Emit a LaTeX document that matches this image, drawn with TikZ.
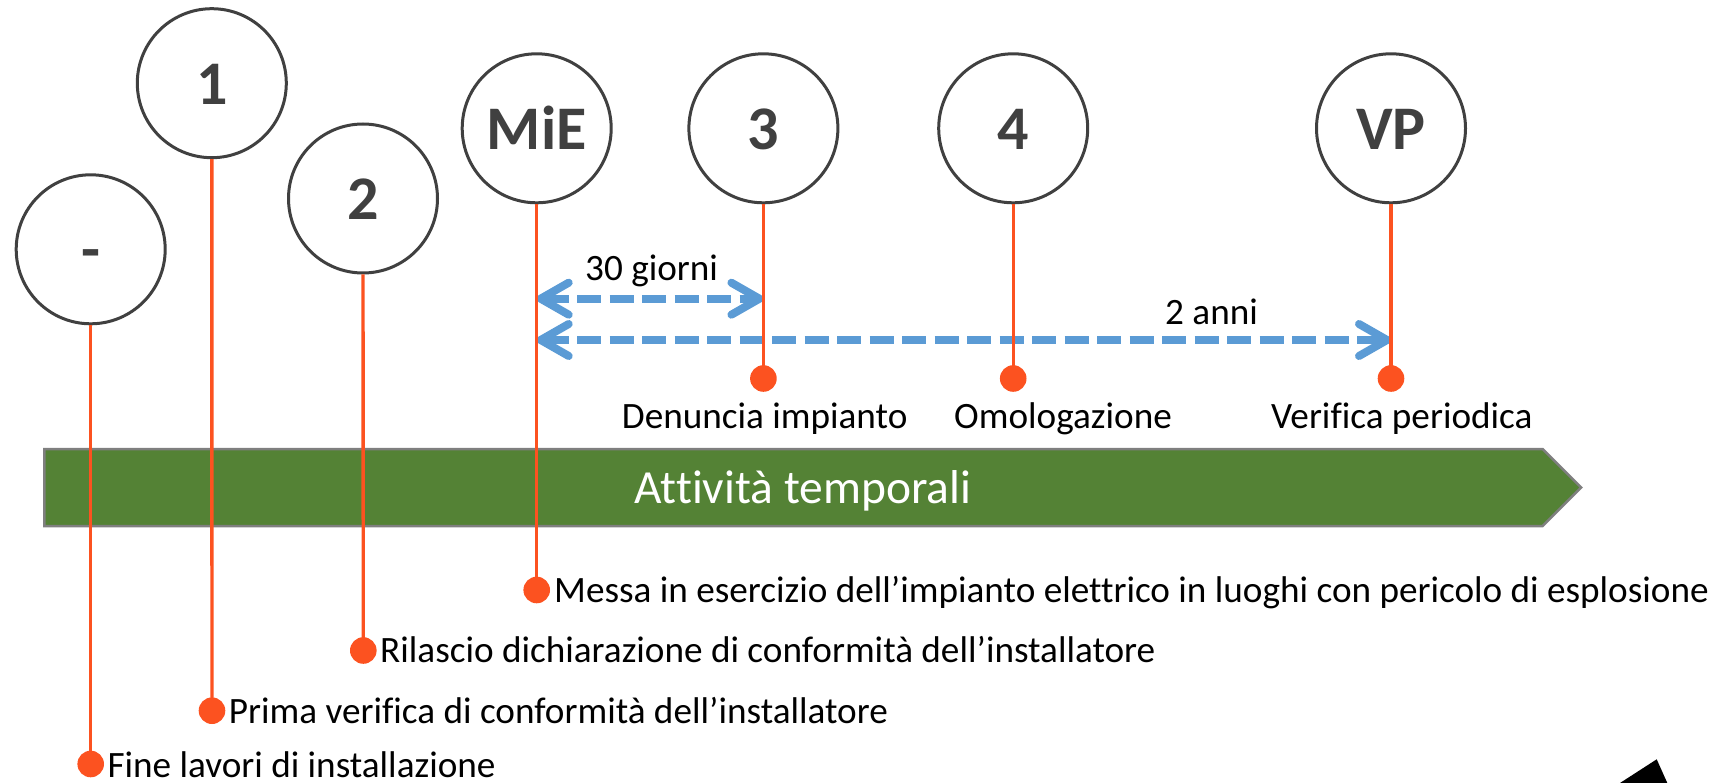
\documentclass[tikz,border=0pt]{standalone}
\usepackage{fontspec}
\setmainfont{Carlito}[Ligatures=CommonOff]
\usetikzlibrary{arrows.meta}
\definecolor{orng}{HTML}{FC5220}
\definecolor{grn}{HTML}{548235}
\definecolor{blu}{HTML}{5B9BD5}
\definecolor{dk}{HTML}{404040}
\definecolor{bordergray}{HTML}{7F7F7F}
\begin{document}
\begin{tikzpicture}[x=1pt,y=-1pt,
  milestone/.style={circle, draw=dk, line width=3pt, minimum size=149pt, inner sep=0pt,
    text=dk, font=\fontsize{62}{70}\selectfont\bfseries, text height=43pt, text depth=0pt},
  dot/.style={circle, fill=orng, minimum size=26.6pt, inner sep=0pt},
  stem/.style={draw=orng, line width=3.4pt},
  lbl/.style={anchor=base west, inner sep=0pt, font=\fontsize{37.2}{44}\selectfont},
  span/.style={draw=blu, line width=8pt, dash pattern=on 24pt off 8.5pt,
    {Straight Barb[length=28pt,width=32pt,round]}-{Straight Barb[length=28pt,width=32pt,round]}},
  banner/.style={fill=grn, draw=bordergray, line width=2.5pt},
]
\useasboundingbox (0,0) rectangle (1716,783);

% green banner arrow
\draw[banner] (44.3,449) -- (1542.7,449) -- (1581,487.5) -- (1542.7,526) -- (44.3,526) -- cycle;
\node[anchor=base, inner sep=0pt, text=white, font=\fontsize{47.5}{54}\selectfont] (act) at (802.9,503.3) {Attività temporali};

% milestone circles
\node[milestone] (c0) at (90.7,249.3) {-};
\node[milestone] (c1) at (211.8,83.2) {1};
\node[milestone] (c2) at (363.0,198.5) {2};
\node[milestone] (cM) at (536.7,128.3) {MiE};
\node[milestone] (c3) at (763.4,128.3) {3};
\node[milestone] (c4) at (1013.2,128.3) {4};
\node[milestone] (cV) at (1391.0,128.3) {VP};

% dots
\node[dot] (d0) at (90.7,764) {};
\node[dot] (d1) at (212.0,710.7) {};
\node[dot] (d2) at (363.3,650.5) {};
\node[dot] (dM) at (536.7,590) {};
\node[dot] (d3) at (763.4,378.5) {};
\node[dot] (d4) at (1013.2,378.5) {};
\node[dot] (dV) at (1391.0,378.5) {};

% span anchor points
\coordinate (sA1) at (536.7,298.7);
\coordinate (sB1) at (763.4,298.7);
\coordinate (sA2) at (536.7,340);
\coordinate (sB2) at (1391.0,340);

\draw[span] (sA1) -- (sB1);
\draw[span] (sA2) -- (sB2);

% stems
\draw[stem] (c0.south) -- (d0.center);
\draw[stem] (c1.south) -- (d1.center);
\draw[stem] (c2.south) -- (d2.center);
\draw[stem] (cM.south) -- (dM.center);
\draw[stem] (c3.south) -- (d3.center);
\draw[stem] (c4.south) -- (d4.center);
\draw[stem] (cV.south) -- (dV.center);

% labels
\node[lbl] (g30) at (585,281) {30 giorni};
\node[lbl] (g2a) at (1165,325) {2 anni};
\node[lbl] (t3) at (621.7,428.5) {Denuncia impianto};
\node[lbl] (t4) at (954,428.5) {Omologazione};
\node[lbl] (tV) at (1271,428.5) {Verifica periodica};
\node[lbl] (tM) at (554,602.7) {Messa in esercizio dell’impianto elettrico in luoghi con pericolo di esplosione};
\node[lbl] (t2) at (380,662) {Rilascio dichiarazione di conformità dell’installatore};
\node[lbl] (t1) at (228.7,723) {Prima verifica di conformità dell’installatore};
\node[lbl] (t0) at (107.3,777) {Fine lavori di installazione};

% black corner shape
\fill[black] (1620,783) -- (1656.7,759.3) -- (1667.3,783) -- cycle;
\end{tikzpicture}
\end{document}
